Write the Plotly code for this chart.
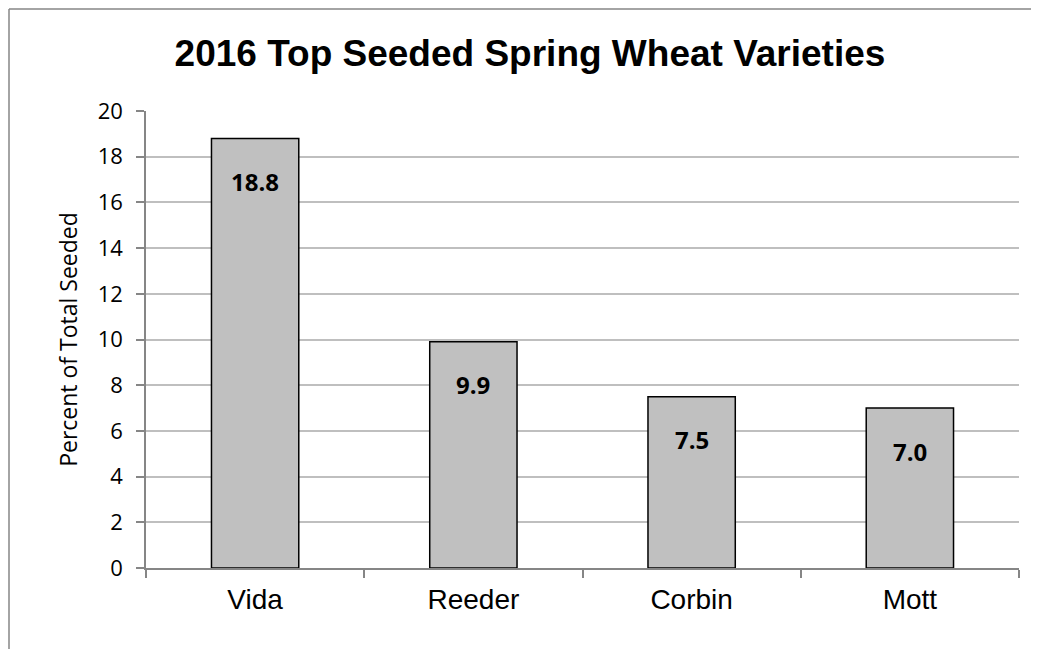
import plotly.graph_objects as go

categories = ["Vida", "Reeder", "Corbin", "Mott"]
values = [18.8, 9.9, 7.5, 7.0]
labels = ["18.8", "9.9", "7.5", "7.0"]
y_ticks = [0, 2, 4, 6, 8, 10, 12, 14, 16, 18, 20]

# page has an 8px body margin; figure origin sits at (8, 8) on the page
W, H = 1039, 649
ml, mr, mt, mb = 138, 28, 103, 89
pw, ph = W - ml - mr, H - mt - mb

fig = go.Figure()
fig.add_trace(go.Bar(
    x=categories, y=values,
    marker=dict(color="#c0c0c0", line=dict(color="#000000", width=1.5)),
    width=0.4, hoverinfo="skip",
))

for c, v, t in zip(categories, values, labels):
    fig.add_annotation(x=c, y=v, text="<b>" + t + "</b>", showarrow=False,
                       yanchor="middle", yshift=-43,
                       font=dict(family="Open Sans, Noto Sans, sans-serif", size=24, color="#000"))

# chart border (top and left visible)
x0 = (1 - ml) / pw
y1 = (H - mb - 1) / ph
fig.add_shape(type="line", xref="paper", yref="paper", x0=x0, x1=x0, y0=-1, y1=y1,
              line=dict(color="#868686", width=1.5))
fig.add_shape(type="line", xref="paper", yref="paper", x0=x0, x1=2, y0=y1, y1=y1,
              line=dict(color="#868686", width=1.5))

fig.update_layout(
    width=W, height=H,
    margin=dict(l=ml, r=mr, t=mt, b=mb, autoexpand=False),
    paper_bgcolor="white", plot_bgcolor="white",
    showlegend=False,
    title=dict(text="<b>2016 Top Seeded Spring Wheat Varieties</b>",
               x=(522 - ml) / pw, xref="paper", xanchor="center",
               y=1 - 45 / H, yanchor="middle",
               font=dict(family="Liberation Sans, Arial, sans-serif", size=37, color="#000")),
    xaxis=dict(
        showline=True, linecolor="#868686", linewidth=1.5,
        ticks="outside", ticklen=8, tickcolor="#868686", tickwidth=1.5,
        tickson="boundaries", ticklabelstandoff=6,
        tickfont=dict(family="Liberation Sans, Arial, sans-serif", size=28, color="#000"),
        showgrid=False,
    ),
    yaxis=dict(
        range=[0, 20], tickvals=y_ticks,
        showline=True, linecolor="#868686", linewidth=1.5,
        ticks="outside", ticklen=8, tickcolor="#868686", tickwidth=1.5,
        ticklabelstandoff=9,
        showgrid=True, gridcolor="#bfbfbf", gridwidth=1.5,
        zeroline=False,
        tickfont=dict(family="Open Sans, Noto Sans, sans-serif", size=22, color="#000"),
        title=dict(text="Percent of Total Seeded", standoff=14,
                   font=dict(family="Open Sans, Noto Sans, sans-serif", size=23, color="#000")),
    ),
)

fig.write_html("out.html")
